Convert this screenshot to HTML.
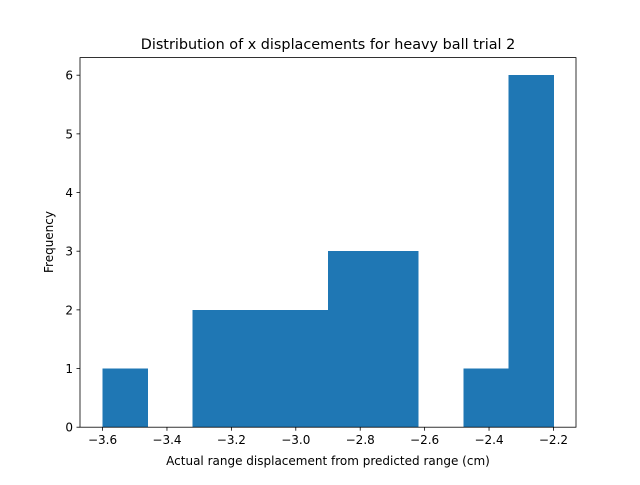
<!DOCTYPE html>
<html><head><meta charset="utf-8"><style>
body{margin:0;background:#fff;}
svg text{font-family:"DejaVu Sans","Liberation Sans",sans-serif;fill:#000;}
</style></head><body>
<svg id="chart" width="640" height="480" xmlns="http://www.w3.org/2000/svg">
<rect width="640" height="480" fill="#fff"/>
<text x="328" y="49" font-size="14.4" text-anchor="middle">Distribution of x displacements for heavy ball trial 2</text>
<g id="bars" shape-rendering="crispEdges"></g>
<g id="xticks"></g>
<g id="yticks"></g>
<rect x="80" y="57.6" width="496" height="369.6" fill="none" stroke="#000" stroke-width="0.8"/>
<text x="328" y="465" font-size="12" text-anchor="middle">Actual range displacement from predicted range (cm)</text>
<text x="0" y="0" font-size="12" text-anchor="middle" transform="translate(53,242) rotate(-90)">Frequency</text>
</svg>
<script>
const binStart = -3.6;
const binWidth = 0.14;
const counts = [1,0,2,2,2,3,3,0,1,6];
const xTickValues = [-3.6,-3.4,-3.2,-3.0,-2.8,-2.6,-2.4,-2.2];
const yTickValues = [0,1,2,3,4,5,6];

const NS="http://www.w3.org/2000/svg";
const X0=80,X1=576,Y0=427.2,Y1=57.6;
const xmin=binStart-binWidth*counts.length*0.05, xmax=binStart+binWidth*counts.length*1.05;
const ymax=Math.max(...counts)*1.05;
const xs=v=>X0+(v-xmin)/(xmax-xmin)*(X1-X0);
const ys=v=>Y0-v/ymax*(Y0-Y1);
function mk(t,a,p){const e=document.createElementNS(NS,t);for(const k in a)e.setAttribute(k,a[k]);p.appendChild(e);return e;}
const bars=document.getElementById('bars');
counts.forEach((c,i)=>{
  if(c<=0) return;
  const a=binStart+i*binWidth,b=a+binWidth;
  const r=mk('rect',{x:xs(a),y:ys(c),width:xs(b)-xs(a)+0.5,height:ys(0)-ys(c),fill:'#1f77b4'},bars);
  
  
});
const xt=document.getElementById('xticks');
xTickValues.forEach(v=>{
  const x=xs(v);
  mk('line',{x1:x,x2:x,y1:Y0,y2:Y0+3.5,stroke:'#000','stroke-width':0.8},xt);
  const t=mk('text',{x:x,y:Y0+17,'font-size':12,'text-anchor':'middle'},xt);
  t.textContent=(v<0?'\u2212':'')+Math.abs(v).toFixed(1);
  
  
});
const yt=document.getElementById('yticks');
yTickValues.forEach(v=>{
  const y=ys(v);
  mk('line',{x1:X0-3.5,x2:X0,y1:y,y2:y,stroke:'#000','stroke-width':0.8},yt);
  const t=mk('text',{x:X0-7,y:y+4.5,'font-size':12,'text-anchor':'end'},yt);
  t.textContent=String(v);
  
  
});
</script>
</body></html>
